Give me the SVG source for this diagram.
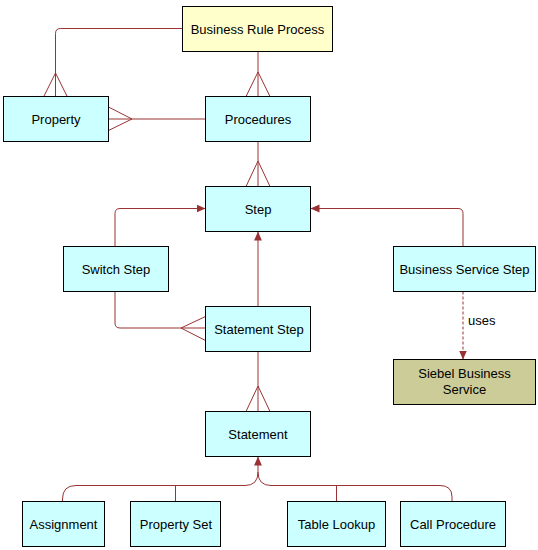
<svg xmlns="http://www.w3.org/2000/svg" width="538" height="550" viewBox="0 0 538 550">
<defs>
<style>
.box{stroke:#000;stroke-width:1}
.ent{fill:#CCFFFF}
.root{fill:#FFFFCC}
.svc{fill:#CCCC99}
.t{font-family:"Liberation Sans",Arial,sans-serif;font-size:13px;fill:#000;text-anchor:middle}
.c{fill:none;stroke:#993333;stroke-width:1}
.dash{stroke-dasharray:3,2}
</style>
<marker id="arr" markerUnits="userSpaceOnUse" markerWidth="9" markerHeight="9" viewBox="0 0 8 8" refX="8" refY="4" orient="auto">
<path d="M0,0.5 L8,4 L0,7.5 z" fill="#993333"/>
</marker>
</defs>
<rect width="538" height="550" fill="#fff"/>
<g id="connectors">
<path class="c" d="M182.5,28.5 H60.5 Q55.5,28.5 55.5,33.5 V96.5"/>
<path class="c" d="M43.8,96.5 L55.5,73 L67.2,96.5"/>
<path class="c" d="M258,51.5 V96.5"/>
<path class="c" d="M246,96.5 L258,72 L270,96.5"/>
<path class="c" d="M108.5,119 H205.5"/>
<path class="c" d="M108.5,107 L132,119 L108.5,130.5"/>
<path class="c" d="M258,141.5 V186.5"/>
<path class="c" d="M246,186.5 L258,161 L270,186.5"/>
<path class="c" d="M115,246.5 V213.5 Q115,208.5 120,208.5 H205.5" marker-end="url(#arr)"/>
<path class="c" d="M463,246.5 V213.5 Q463,208.5 458,208.5 H310.5" marker-end="url(#arr)"/>
<path class="c" d="M258,306.5 V231.5" marker-end="url(#arr)"/>
<path class="c" d="M115,291.5 V323 Q115,328 120,328 H205.5"/>
<path class="c" d="M205.5,316.5 L181,328 L205.5,340.5"/>
<path class="c dash" d="M463,291.5 V359.5" marker-end="url(#arr)"/>
<path class="c" d="M258,351.5 V411.5"/>
<path class="c" d="M246,411.5 L258,386 L270,411.5"/>
<path class="c" d="M62.5,501.5 V499 Q62.5,485.5 76,485.5 H245 Q258,485.5 258,472 V456.5" marker-end="url(#arr)"/>
<path class="c" d="M452,501.5 V497 Q452,485.5 440,485.5 H271 Q258,485.5 258,472"/>
<path class="c" d="M175.5,501.5 V485.5"/>
<path class="c" d="M336.5,501.5 V485.5"/>
<text class="t" x="468" y="325" style="text-anchor:start">uses</text>
</g>
<g id="brp"><rect class="box root" x="182.5" y="6.5" width="150" height="45"/><text class="t" x="257.5" y="33.5">Business Rule Process</text></g>
<g id="property"><rect class="box ent" x="3.5" y="96.5" width="105" height="45"/><text class="t" x="56" y="123.5">Property</text></g>
<g id="procedures"><rect class="box ent" x="205.5" y="96.5" width="105" height="45"/><text class="t" x="258" y="123.5">Procedures</text></g>
<g id="step"><rect class="box ent" x="205.5" y="186.5" width="105" height="45"/><text class="t" x="258" y="213.5">Step</text></g>
<g id="switchstep"><rect class="box ent" x="63.5" y="246.5" width="105" height="45"/><text class="t" x="116" y="273.5">Switch Step</text></g>
<g id="bss"><rect class="box ent" x="393.5" y="246.5" width="142" height="45"/><text class="t" x="464.5" y="273.5">Business Service Step</text></g>
<g id="statementstep"><rect class="box ent" x="205.5" y="306.5" width="105" height="45"/><text class="t" x="259" y="333.5">Statement Step</text></g>
<g id="siebel"><rect class="box svc" x="393.5" y="359.5" width="142" height="45"/><text class="t" x="464.5" y="377.5">Siebel Business</text><text class="t" x="464.5" y="393.5">Service</text></g>
<g id="statement"><rect class="box ent" x="205.5" y="411.5" width="105" height="45"/><text class="t" x="258" y="438.5">Statement</text></g>
<g id="assignment"><rect class="box ent" x="22.5" y="501.5" width="82" height="45"/><text class="t" x="63.5" y="528.5">Assignment</text></g>
<g id="propertyset"><rect class="box ent" x="130.5" y="501.5" width="90" height="45"/><text class="t" x="176" y="528.5">Property Set</text></g>
<g id="tablelookup"><rect class="box ent" x="287.5" y="501.5" width="98" height="45"/><text class="t" x="336.5" y="528.5">Table Lookup</text></g>
<g id="callprocedure"><rect class="box ent" x="400.5" y="501.5" width="105" height="45"/><text class="t" x="453" y="528.5">Call Procedure</text></g>
</svg>
